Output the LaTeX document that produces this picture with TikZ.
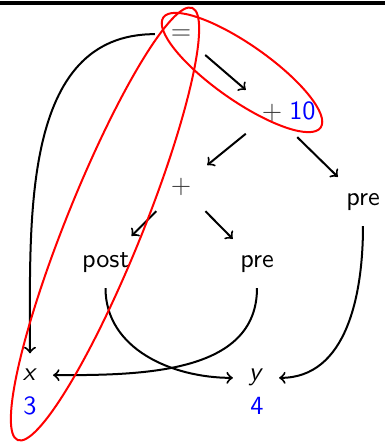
\documentclass[tikz,border=0pt]{standalone}
\usepackage{tikz}
\definecolor{opgray}{RGB}{60,60,60}

\begin{document}
\begin{tikzpicture}[x=0.4pt, y=0.4pt,
  tn/.style={inner sep=6pt, anchor=base, font=\sffamily\fontsize{10.5}{12}\selectfont},
  op/.style={tn, text=opgray},
  val/.style={tn, text=blue},
  line width=0.8pt]
\useasboundingbox (0,0) rectangle (385,442);
\draw[line width=1.3pt] (0,439) -- (385,439);
% expression tree
\node[op] (eq) at (181,403) {=};
\node[op] (plusA) at (272,323) {+};
\node[val, inner sep=0pt] (ten) at (302.5,323) {10};
\node[op] (plusB) at (181,249) {+};
\node[tn] (preR) at (363,237) {pre};
\node[tn] (post) at (105.5,175) {post};
\node[tn] (preM) at (257,175) {pre};
% variables
\node[tn] (x) at (30,61) {\textsl{x}};
\node[val] (three) at (30,28) {3};
\node[tn] (y) at (256,61) {\textsl{y}};
\node[val] (four) at (257,28) {4};
\draw[->] (eq) -- (plusA);
\draw[->] (plusA) -- (plusB);
\draw[->] (plusA) -- (preR);
\draw[->] (plusB) -- (post);
\draw[->] (plusB) -- (preM);
\draw[->] (eq) to[out=180,in=90] (x);
\draw[->] (post) to[out=-90,in=180] (y);
\draw[->] (preM) to[out=-90,in=0] (x);
\draw[->] (preR) to[out=-90,in=0] (y);
% highlighted regions
\draw[red, rotate around={-35:(242,369.5)}] (242,369.5) ellipse [x radius=96, y radius=28];
\draw[red, rotate around={-22:(105,218)}] (105,218) ellipse [x radius=38, y radius=233];
\end{tikzpicture}
\end{document}
